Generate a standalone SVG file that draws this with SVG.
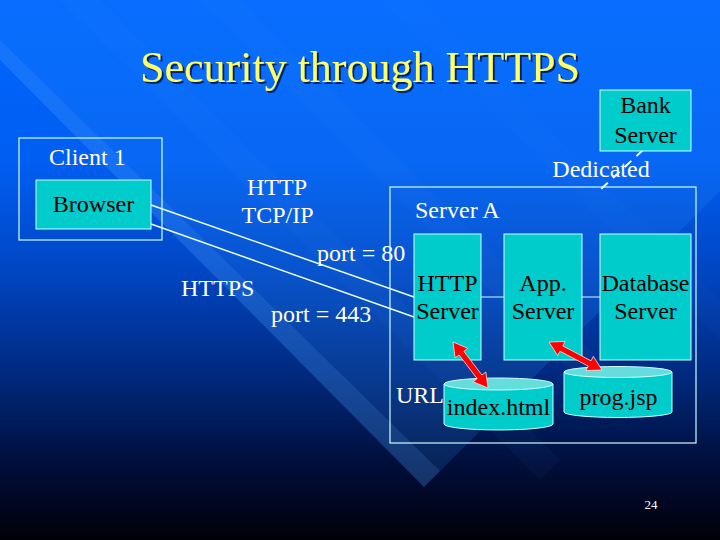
<svg xmlns="http://www.w3.org/2000/svg" width="720" height="540" viewBox="0 0 720 540">
<defs>
<linearGradient id="bg" x1="0" y1="0" x2="0" y2="1">
<stop offset="0" stop-color="#0066ff"/>
<stop offset="0.3" stop-color="#005ef2"/>
<stop offset="0.5" stop-color="#0046c4"/>
<stop offset="0.7" stop-color="#00287c"/>
<stop offset="0.86" stop-color="#000e3a"/>
<stop offset="1" stop-color="#000008"/>
</linearGradient>
<filter id="shadow" x="-5%" y="-20%" width="110%" height="150%">
<feDropShadow dx="2" dy="2" stdDeviation="0.6" flood-color="#000030" flood-opacity="0.7"/>
</filter>
<style>
.w{fill:#ffffff}
.k{fill:#000000}
.m{text-anchor:middle}
.box{fill:#00cccc;stroke:#ccffff;stroke-width:1}
.frame{fill:none;stroke:#ccffff;stroke-width:1.2}
.ln{stroke:#e8ffff;stroke-width:1.5;fill:none}
.arr{fill:#ff0000;stroke:#ffdddd;stroke-width:0.8}
.cyl{fill:#00cccc;stroke:#ccffff;stroke-width:1}
.cyltop{fill:#66dddd;stroke:#ccffff;stroke-width:1}
</style>
</defs>
<rect x="0" y="0" width="720" height="540" fill="url(#bg)"/>
<!-- light beam -->
<polygon points="0,0 0,60 424,487 720,191 720,0" fill="#3399ff" opacity="0.16"/>
<polygon points="0,40 0,60 424,487 440,471" fill="#66aaff" opacity="0.15"/>
<polygon points="60,0 100,0 560,460 540,480" fill="#66aaff" opacity="0.04"/>
<polygon points="200,0 240,0 640,400 620,420" fill="#66aaff" opacity="0.035"/>
<polygon points="380,0 420,0 720,300 720,340" fill="#66aaff" opacity="0.03"/>

<g font-family="Liberation Serif, Times New Roman, serif" font-size="24">
<g id="title">
<text x="360" y="82" class="m" filter="url(#shadow)" font-size="44" fill="#ffff66">Security through HTTPS</text>
</g>

<g id="connectors">
<line class="ln" x1="151" y1="205" x2="414" y2="297"/>
<line class="ln" x1="151" y1="224" x2="414" y2="317"/>
<line class="ln" x1="481" y1="297" x2="504" y2="297" style="stroke:#ccffff;stroke-width:1"/>
<line class="ln" x1="582" y1="297" x2="600" y2="297" style="stroke:#ccffff;stroke-width:1"/>
<line class="ln" x1="643" y1="150" x2="601" y2="189" style="stroke-width:2;stroke-dasharray:9,7"/>
</g>

<g id="client1">
<rect class="frame" x="19" y="138" width="143" height="102"/>
<text class="w" x="49" y="165">Client 1</text>
</g>
<g id="browser">
<rect class="box" x="36" y="180" width="115" height="49"/>
<text class="k m" x="93.5" y="212">Browser</text>
</g>

<g id="labels">
<text class="w m" x="277" y="195">HTTP</text>
<text class="w m" x="277.5" y="223">TCP/IP</text>
<text class="w" x="317" y="261">port = 80</text>
<text class="w" x="181" y="296">HTTPS</text>
<text class="w" x="271" y="322">port = 443</text>
<text class="w m" x="601" y="177">Dedicated</text>
<text class="w" x="396" y="403">URL</text>
<text class="w m" x="651" y="509" font-size="13">24</text>
</g>

<g id="bank-server">
<rect class="box" x="600" y="90" width="91" height="61"/>
<text class="k m" x="645.5" y="113">Bank</text>
<text class="k m" x="645.5" y="143">Server</text>
</g>

<g id="server-a">
<rect class="frame" x="390" y="187" width="306" height="256"/>
<text class="w" x="415" y="218">Server A</text>
</g>

<g id="http-server">
<rect class="box" x="414" y="234" width="67" height="126"/>
<text class="k m" x="447.5" y="291">HTTP</text>
<text class="k m" x="447.5" y="319">Server</text>
</g>
<g id="app-server">
<rect class="box" x="504" y="234" width="78" height="126"/>
<text class="k m" x="543" y="291">App.</text>
<text class="k m" x="543" y="319">Server</text>
</g>
<g id="database-server">
<rect class="box" x="600" y="234" width="91" height="126"/>
<text class="k m" x="645.5" y="291">Database</text>
<text class="k m" x="645.5" y="319">Server</text>
</g>

<g id="index-html">
<path class="cyl" d="M444,384 L444,424 A54.5,6 0 0 0 553,424 L553,384 Z"/>
<ellipse class="cyltop" cx="498.5" cy="384" rx="54.5" ry="6"/>
<text class="k m" x="498.5" y="415">index.html</text>
</g>
<g id="prog-jsp">
<path class="cyl" d="M564,372 L564,412 A54,5.5 0 0 0 672,412 L672,372 Z"/>
<ellipse class="cyltop" cx="618" cy="372" rx="54" ry="5.5"/>
<text class="k m" x="618.5" y="405">prog.jsp</text>
</g>

<g id="red-arrows">
<polygon class="arr" points="453,342 455.11,357.98 459.09,354.96 477.13,378.68 473.15,381.70 488,388 485.89,372.02 481.91,375.04 463.87,351.32 467.85,348.30"/>
<polygon class="arr" points="549,342 557.64,355.61 559.98,351.19 588.22,366.11 585.88,370.53 602,370 593.36,356.39 591.02,360.81 562.78,345.89 565.12,341.47"/>
</g>
</g>
</svg>
